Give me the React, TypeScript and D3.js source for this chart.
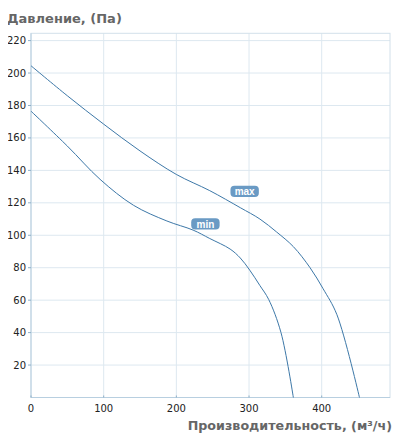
import React, { useEffect, useRef } from 'react';
import * as d3 from 'd3';

// airflow (m³/h) vs pressure (Pa)
const maxFlow = [0, 50, 100, 150, 200, 246, 288, 315, 338, 361, 384, 402, 421, 452];
const maxPressure = [204.5, 186, 168.5, 152, 137.5, 127.5, 117, 110, 102, 93, 80, 67, 51, 0];

const minFlow = [0, 50, 95, 141, 187, 223, 246, 274, 288, 301, 315, 327, 344, 361];
const minPressure = [176.5, 155, 134.5, 118.5, 108.8, 103.2, 98, 91.5, 86, 78.5, 69, 60.5, 40, 0];

const xTicks = [0, 100, 200, 300, 400];
const yTicks = [20, 40, 60, 80, 100, 120, 140, 160, 180, 200, 220];

const curveLabels = [
  { name: 'max', flow: 294, pressure: 127 },
  { name: 'min', flow: 240, pressure: 107 },
];

const App: React.FC = () => {
  const svgRef = useRef<SVGSVGElement>(null);

  useEffect(() => {
    if (!svgRef.current) return;

    const width = 401;
    const height = 441;
    const left = 31;
    const right = 390;
    const top = 33.3;
    const bottom = 397.5;
    const font = 'Verdana, "DejaVu Sans", sans-serif';
    const labelFont = 'Arial, "Liberation Sans", sans-serif';

    const x = d3.scaleLinear().domain([0, 494]).range([left, right]);
    const y = d3.scaleLinear().domain([0, 224.5]).range([bottom, top]);

    const svg = d3.select(svgRef.current)
      .attr('width', width)
      .attr('height', height)
      .style('display', 'block')
      .html('');

    // grid
    svg.append('g')
      .selectAll('line')
      .data(yTicks)
      .enter().append('line')
      .attr('x1', left).attr('x2', right)
      .attr('y1', d => y(d)).attr('y2', d => y(d))
      .style('stroke', '#dde8f0');

    svg.append('g')
      .selectAll('line')
      .data(xTicks.filter(d => d > 0))
      .enter().append('line')
      .attr('x1', d => x(d)).attr('x2', d => x(d))
      .attr('y1', top).attr('y2', bottom)
      .style('stroke', '#dde8f0');

    // frame
    svg.append('rect')
      .attr('x', left).attr('y', top)
      .attr('width', right - left).attr('height', bottom - top)
      .style('fill', 'none')
      .style('stroke', '#d2e0ea');

    svg.append('line')
      .attr('x1', left).attr('x2', left)
      .attr('y1', top).attr('y2', bottom)
      .style('stroke', '#b8cfe0');
    svg.append('line')
      .attr('x1', left).attr('x2', right)
      .attr('y1', bottom).attr('y2', bottom)
      .style('stroke', '#b8cfe0');

    // y ticks
    const yAxis = svg.append('g');
    yAxis.selectAll('line')
      .data(yTicks)
      .enter().append('line')
      .attr('x1', left - 3).attr('x2', left)
      .attr('y1', d => y(d)).attr('y2', d => y(d))
      .style('stroke', '#8fb0c8');
    yAxis.selectAll('text')
      .data(yTicks)
      .enter().append('text')
      .attr('x', left - 5)
      .attr('y', d => y(d) + 3.5)
      .attr('text-anchor', 'end')
      .style('font', `10px ${font}`)
      .style('fill', '#222')
      .text(d => d);

    // x ticks
    const xAxis = svg.append('g');
    xAxis.selectAll('line')
      .data(xTicks)
      .enter().append('line')
      .attr('x1', d => x(d)).attr('x2', d => x(d))
      .attr('y1', bottom - 2).attr('y2', bottom)
      .style('stroke', '#8fb0c8');
    xAxis.selectAll('text')
      .data(xTicks)
      .enter().append('text')
      .attr('x', d => x(d))
      .attr('y', bottom + 14)
      .attr('text-anchor', 'middle')
      .style('font', `10px ${font}`)
      .style('fill', '#222')
      .text(d => d);

    // titles
    svg.append('text')
      .attr('x', 7).attr('y', 23)
      .style('font', `bold 13px ${font}`)
      .style('fill', '#666')
      .text('Давление, (Па)');

    svg.append('text')
      .attr('x', 392).attr('y', 430)
      .attr('text-anchor', 'end')
      .style('font', `bold 12.7px ${font}`)
      .style('fill', '#666')
      .text('Производительность, (м³/ч)');

    // curves
    const line = d3.line<[number, number]>()
      .x(d => x(d[0]))
      .y(d => y(d[1]))
      .curve(d3.curveCatmullRom.alpha(0.5));

    const series: [number, number][][] = [
      maxFlow.map((f, i) => [f, maxPressure[i]] as [number, number]),
      minFlow.map((f, i) => [f, minPressure[i]] as [number, number]),
    ];

    svg.append('g')
      .selectAll('path')
      .data(series)
      .enter().append('path')
      .attr('d', d => line(d) as string)
      .style('fill', 'none')
      .style('stroke', '#3d78a8')
      .style('stroke-width', 1);

    // curve labels
    const lbl = svg.append('g')
      .selectAll('g')
      .data(curveLabels)
      .enter().append('g')
      .attr('transform', d => `translate(${x(d.flow)}, ${y(d.pressure)})`);

    lbl.append('rect')
      .attr('x', -14.2).attr('y', -5.6)
      .attr('width', 28.4).attr('height', 11.2)
      .attr('rx', 4)
      .style('fill', '#6a9ac4');

    lbl.append('text')
      .attr('y', 3.6)
      .attr('text-anchor', 'middle')
      .style('font', `bold 10px ${labelFont}`)
      .style('fill', '#fff')
      .text(d => d.name);
  }, []);

  return (
    <div style={{ margin: -8 }}>
      <svg ref={svgRef}></svg>
    </div>
  );
};

export default App;
